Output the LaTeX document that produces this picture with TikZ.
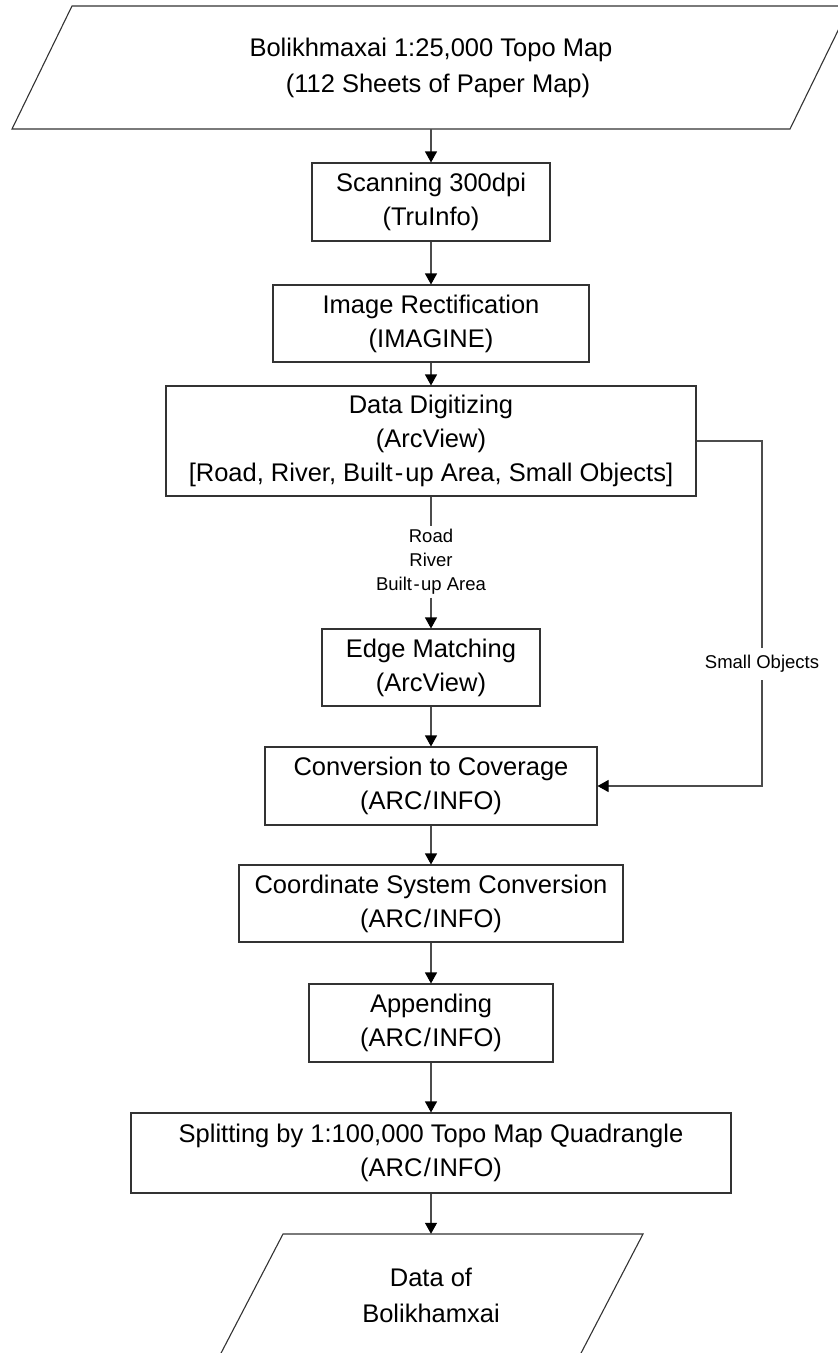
\documentclass[tikz,border=0pt]{standalone}
\usepackage{fontspec}
\setmainfont{Liberation Sans}
\usetikzlibrary{arrows.meta}

% slightly opened hyphen and slash, as set in the chart
\newcommand{\opendash}{\kern2pt-\kern2pt}
\newcommand{\openslash}{\kern1.5pt/\kern1.5pt}

\tikzset{
  procbox/.style={draw=black!80, line width=1.1pt, rectangle, inner sep=0pt,
    align=center, font=\fontsize{25.5}{34}\selectfont},
  iotext/.style={draw=none, rectangle, inner sep=0pt, align=center,
    font=\fontsize{25.5}{36}\selectfont},
  ioshape/.style={draw=black!80, line width=1.1pt, line join=miter},
  flow/.style={draw=black!70, line width=1.1pt,
    -{Triangle[width=12pt,length=11pt,color=black]}},
  plainline/.style={draw=black!70, line width=1.1pt},
  smalllbl/.style={font=\fontsize{18.5}{24}\selectfont, fill=white,
    align=center, inner xsep=3pt, inner ysep=3pt}
}

\begin{document}
\begin{tikzpicture}[x=1pt,y=-1pt]
  \useasboundingbox (0,0) rectangle (838,1353);
  \clip (0,0) rectangle (838,1353);

  % source map sheets (input parallelogram)
  \draw[ioshape] (72,6) -- (850,6) -- (790,129) -- (12,129) -- cycle;
  \node[iotext, minimum width=500pt, minimum height=123pt] (src) at (431,67.5)
    {Bolikhmaxai 1:25,000 Topo Map\\\hspace*{14pt}(112 Sheets of Paper Map)};

  % processing steps
  \node[procbox, minimum width=238pt, minimum height=78pt] (scan) at (431,202)
    {Scanning 300dpi\\(TruInfo)};
  \node[procbox, minimum width=316pt, minimum height=77pt] (rect) at (431,323.5)
    {Image Rectification\\(IMAGINE)};
  \node[procbox, minimum width=530pt, minimum height=110pt] (digit) at (431,441)
    {Data Digitizing\\(ArcView)\\{}[Road, River, Built\opendash up Area, Small Objects]};
  \node[procbox, minimum width=218pt, minimum height=77pt] (edge) at (431,667.5)
    {Edge Matching\\(ArcView)};
  \node[procbox, minimum width=332pt, minimum height=78pt] (conv) at (431,786)
    {Conversion to Coverage\\(ARC\openslash INFO)};
  \node[procbox, minimum width=384pt, minimum height=77pt] (coord) at (431,903.5)
    {Coordinate System Conversion\\(ARC\openslash INFO)};
  \node[procbox, minimum width=244pt, minimum height=78pt] (append) at (431,1023)
    {Appending\\(ARC\openslash INFO)};
  \node[procbox, minimum width=600pt, minimum height=80pt] (split) at (431,1153)
    {Splitting by 1:100,000 Topo Map Quadrangle\\(ARC\openslash INFO)};

  % resulting data (output parallelogram)
  \draw[ioshape] (283,1234) -- (643,1234) -- (579,1357) -- (219,1357) -- cycle;
  \node[iotext, minimum width=300pt, minimum height=123pt] (dst) at (431,1295.5)
    {Data of\\Bolikhamxai};

  % main flow
  \draw[flow] (src.south) -- (scan.north);
  \draw[flow] (scan) -- (rect);
  \draw[flow] (rect) -- (digit);

  \node[smalllbl] (layers) at (431,562) {Road\\River\\Built\kern1.5pt-\kern1.5pt up Area};
  \draw[plainline] (digit.south) -- (layers.north);
  \draw[flow] (layers.south) -- (edge.north);

  \draw[flow] (edge) -- (conv);
  \draw[flow] (conv) -- (coord);
  \draw[flow] (coord) -- (append);
  \draw[flow] (append) -- (split);
  \draw[flow] (split.south) -- (dst.north);

  % side branch for small objects
  \coordinate (branch) at (762,441);
  \draw[flow] (digit.east) -- (branch) -- (branch |- conv.east) -- (conv.east);
  \node[smalllbl, inner ysep=7pt] (smallobj) at (762,664) {Small Objects};
\end{tikzpicture}
\end{document}
